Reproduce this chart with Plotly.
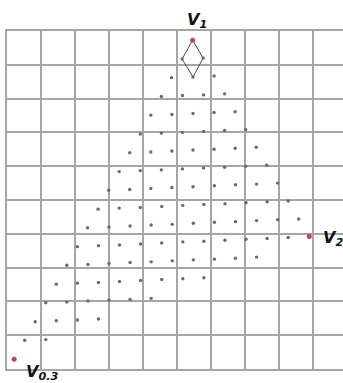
import plotly.graph_objects as go

# Lattice compositions inside the V1-V2-V0.3 triangle (grid units)
lattice_x = [
    5.15, 5.77,
    4.84, 5.47, 6.09,
    4.54, 5.16, 5.78, 6.40,
    4.23, 4.85, 5.47, 6.09, 6.71,
    3.92, 4.54, 5.16, 5.78, 6.40, 7.02,
    3.61, 4.23, 4.85, 5.47, 6.09, 6.71, 7.33,
    3.30, 3.92, 4.54, 5.16, 5.78, 6.40, 7.02, 7.64,
    2.99, 3.61, 4.23, 4.85, 5.47, 6.10, 6.72, 7.34, 7.96,
    2.68, 3.30, 3.92, 4.55, 5.17, 5.79, 6.41, 7.03, 7.65, 8.27,
    2.37, 3.00, 3.62, 4.24, 4.86, 5.48, 6.10, 6.72, 7.34, 7.96, 8.58,
    2.07, 2.69, 3.31, 3.93, 4.55, 5.17, 5.79, 6.41, 7.03, 7.65, 8.27,
    1.76, 2.38, 3.00, 3.62, 4.24, 4.86, 5.48, 6.10, 6.72, 7.34,
    1.45, 2.07, 2.69, 3.31, 3.93, 4.55, 5.17, 5.79,
    1.14, 1.76, 2.38, 3.00, 3.62, 4.24,
    0.83, 1.45, 2.07, 2.69,
    0.52, 1.14,
]
lattice_y = [
    9.17, 9.20,
    8.62, 8.64, 8.67,
    8.06, 8.09, 8.11, 8.14,
    7.51, 7.53, 7.56, 7.59, 7.61,
    6.95, 6.98, 7.00, 7.03, 7.06, 7.08,
    6.40, 6.42, 6.45, 6.48, 6.50, 6.53, 6.56,
    5.84, 5.87, 5.89, 5.92, 5.95, 5.97, 6.00, 6.03,
    5.29, 5.31, 5.34, 5.37, 5.39, 5.42, 5.45, 5.47, 5.50,
    4.73, 4.76, 4.78, 4.81, 4.84, 4.87, 4.89, 4.92, 4.95, 4.97,
    4.18, 4.20, 4.23, 4.26, 4.28, 4.31, 4.34, 4.36, 4.39, 4.42, 4.44,
    3.62, 3.65, 3.67, 3.70, 3.73, 3.76, 3.78, 3.81, 3.84, 3.86, 3.89,
    3.07, 3.09, 3.12, 3.15, 3.17, 3.20, 3.23, 3.25, 3.28, 3.31,
    2.51, 2.54, 2.56, 2.59, 2.62, 2.65, 2.67, 2.70,
    1.96, 1.98, 2.01, 2.04, 2.06, 2.09,
    1.40, 1.43, 1.45, 1.48,
    0.85, 0.87,
]

# Corner compositions
vertex_names = ["V1", "V2", "V0.3"]
vertex_x = [5.46, 8.89, 0.21]
vertex_y = [9.73, 3.92, 0.29]

# Neighbourhood of V1
diamond_x = [5.46, 5.15, 5.47, 5.77, 5.46]
diamond_y = [9.73, 9.17, 8.64, 9.20, 9.73]

# Corner name labels, placed relative to the plotting area
label_text = ["<b><i>V<sub>1</sub></i></b>", "<b><i>V<sub>2</sub></i></b>",
              "<b><i>V<sub>0.3</sub></i></b>"]
label_x = [0.565, 0.935, 0.050]
label_y = [1.030, 0.385, -0.010]
label_anchor = ["center", "left", "left"]

GRID = "#a6a6a6"

fig = go.Figure()
fig.add_trace(go.Scatter(
    x=diamond_x, y=diamond_y, mode="lines",
    line=dict(color="#4a4a4a", width=1), hoverinfo="skip", cliponaxis=False))
fig.add_trace(go.Scatter(
    x=lattice_x, y=lattice_y, mode="markers",
    marker=dict(color="#6a6a6a", size=3.4, line=dict(width=0)), cliponaxis=False))
fig.add_trace(go.Scatter(
    x=vertex_x, y=vertex_y, mode="markers", text=vertex_names,
    marker=dict(color="#d2405f", size=4.5, line=dict(color="#8a3040", width=0.5)),
    cliponaxis=False))

for t, x, y, a in zip(label_text, label_x, label_y, label_anchor):
    fig.add_annotation(x=x, y=y, xref="paper", yref="paper", text=t, showarrow=False,
                       xanchor=a, yanchor="middle",
                       font=dict(family="DejaVu Sans, Verdana, sans-serif", size=16,
                                 color="#111111"))

axis_common = dict(showgrid=True, gridcolor=GRID, gridwidth=1.5, zeroline=False,
                   showticklabels=False, ticks="", showline=True, linecolor=GRID,
                   linewidth=1.5, dtick=1, tick0=0, fixedrange=True)
fig.update_xaxes(range=[0, 336 / 34], mirror=True, **axis_common)
fig.update_yaxes(range=[0, 10], mirror=False, **axis_common)

fig.update_layout(
    width=343, height=383, showlegend=False,
    margin=dict(l=7, r=0, t=31, b=14),
    paper_bgcolor="white", plot_bgcolor="white",
)

fig.write_html("out.html", config={"displayModeBar": False})
